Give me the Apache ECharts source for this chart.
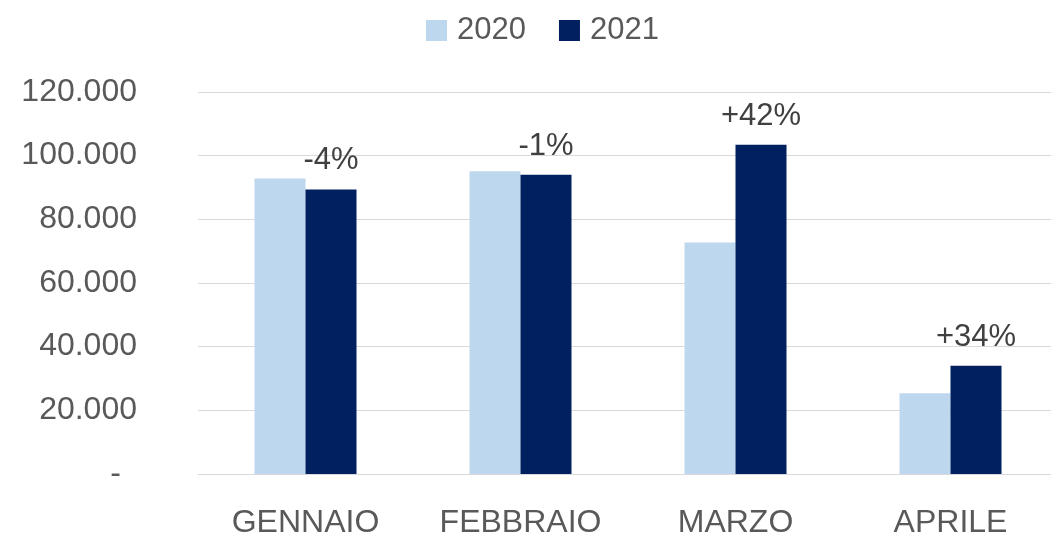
<!DOCTYPE html>
<html>
<head>
<meta charset="utf-8">
<script src="https://cdn.jsdelivr.net/npm/echarts@6/dist/echarts.min.js"></script>
<style>
  html, body { margin: 0; padding: 0; background: #fff; }
  #chart { width: 1051px; height: 536px; }
</style>
</head>
<body>
<div id="chart"></div>
<script>
const months = ['GENNAIO', 'FEBBRAIO', 'MARZO', 'APRILE']
const values2020 = [92800, 95100, 72700, 25400]
const values2021 = [89400, 94000, 103400, 34000]
const changeLabels = ['-4%', '-1%', '+42%', '+34%']
const yTicks = { min: 0, max: 120000, interval: 20000 }

const colors = ['#BDD7EE', '#002060']
const fontFamily = '"Liberation Sans", Arial, sans-serif'

const option = {
  color: colors,
  textStyle: { fontFamily },
  legend: {
    data: ['2020', '2021'],
    left: 421,
    top: 10,
    itemWidth: 21,
    itemHeight: 21,
    itemGap: 33,
    icon: 'rect',
    textStyle: {
      color: '#595959',
      fontSize: 31,
      fontFamily,
      padding: [0, 0, 0, 5]
    }
  },
  grid: {
    left: 198,
    top: 92,
    width: 860,
    bottom: 62,
    outerBoundsMode: 'none'
  },
  xAxis: {
    type: 'category',
    data: months,
    axisTick: { show: false },
    axisLine: { lineStyle: { color: '#d9d9d9', width: 1 } },
    axisLabel: {
      color: '#595959',
      fontSize: 32,
      fontFamily,
      margin: 33
    }
  },
  yAxis: {
    type: 'value',
    min: yTicks.min,
    max: yTicks.max,
    interval: yTicks.interval,
    axisLine: { show: false },
    axisTick: { show: false },
    splitLine: { lineStyle: { color: '#d9d9d9', width: 1 } },
    axisLabel: {
      color: '#595959',
      fontSize: 32,
      fontFamily,
      margin: 61,
      formatter(value) {
        if (value === 0) return '{dash|-}'
        return String(value).replace(/\B(?=(\d{3})+(?!\d))/g, '.')
      },
      rich: {
        dash: { fontSize: 32, color: '#595959', padding: [0, 16, 0, 0] }
      }
    }
  },
  series: [
    {
      name: '2020',
      type: 'bar',
      barWidth: 51,
      barGap: '0%',
      data: values2020
    },
    {
      name: '2021',
      type: 'bar',
      barWidth: 51,
      barGap: '0%',
      data: values2021,
      label: {
        show: true,
        position: 'top',
        distance: 13,
        color: '#404040',
        fontSize: 31,
        fontFamily,
        formatter(p) {
          return changeLabels[p.dataIndex]
        }
      }
    }
  ]
}

const chart = echarts.init(document.getElementById('chart'))
chart.setOption(option)
</script>
</body>
</html>
